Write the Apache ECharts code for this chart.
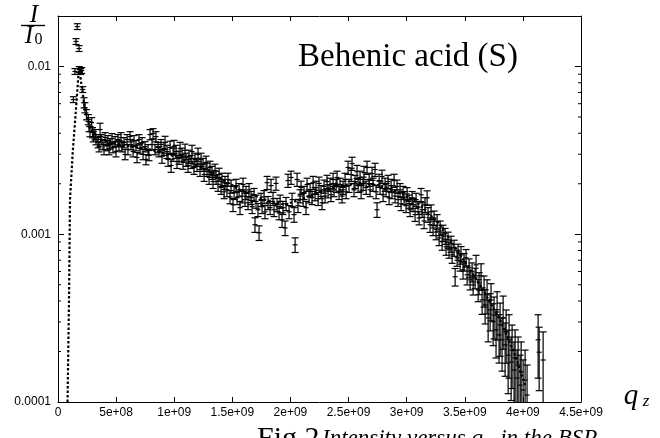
<!DOCTYPE html>
<html><head><meta charset="utf-8">
<script src="https://cdn.jsdelivr.net/npm/echarts@6/dist/echarts.min.js"></script>
<style>html,body{margin:0;padding:0;background:#fff}#c{width:660px;height:438px}</style>
</head><body><div id="c"></div>
<script>
// q_z in units of 1e9 (axis labels show the full value)
const qz = [
.132,.146,.155,.166,.181,.183,.194,.204,.213,.224,
.232,.245,.261,.267,.275,.290,.297,.304,.318,.327,
.344,.362,.353,.370,.387,.396,.405,.422,.430,.439,
.448,.465,.473,.491,.499,.516,.525,.542,.551,.568,
.577,.594,.602,.620,.628,.646,.654,.671,.680,.697,
.706,.723,.732,.749,.757,.775,.783,.792,.809,.818,
.835,.843,.861,.869,.886,.895,.912,.921,.938,.947,
.964,.973,.990,.998,1.016,1.024,1.041,1.050,1.067,1.076,
1.093,1.102,1.119,1.127,1.145,1.153,1.170,1.179,1.196,1.205,
1.222,1.231,1.248,1.257,1.274,1.282,1.300,1.308,1.325,1.334,
1.351,1.360,1.377,1.386,1.403,1.411,1.429,1.437,1.454,1.463,
1.480,1.489,1.506,1.515,1.532,1.541,1.558,1.566,1.584,1.592,
1.609,1.618,1.635,1.644,1.661,1.670,1.687,1.695,1.704,1.721,
1.730,1.747,1.756,1.773,1.781,1.799,1.807,1.825,1.833,1.850,
1.859,1.876,1.885,1.902,1.911,1.928,1.936,1.954,1.962,1.979,
1.988,2.005,2.014,2.031,2.040,2.057,2.065,2.083,2.091,2.109,
2.117,2.134,2.143,2.160,2.169,2.186,2.195,2.212,2.220,2.238,
2.246,2.263,2.272,2.289,2.298,2.315,2.324,2.341,2.349,2.367,
2.375,2.393,2.401,2.418,2.427,2.444,2.453,2.470,2.479,2.496,
2.504,2.522,2.530,2.547,2.556,2.573,2.582,2.599,2.608,2.625,
2.633,2.651,2.659,2.677,2.685,2.702,2.711,2.728,2.737,2.745,
2.763,2.771,2.788,2.797,2.814,2.823,2.840,2.849,2.866,2.874,
2.892,2.900,2.917,2.926,2.943,2.952,2.969,2.978,2.995,3.004,
3.021,3.029,3.047,3.055,3.072,3.081,3.098,3.107,3.124,3.133,
3.150,3.158,3.176,3.184,3.201,3.210,3.227,3.236,3.253,3.262,
3.279,3.288,3.305,3.313,3.331,3.339,3.356,3.365,3.382,3.391,
3.408,3.417,3.434,3.442,3.460,3.468,3.485,3.494,3.511,3.520,
3.537,3.546,3.563,3.572,3.589,3.597,3.615,3.623,3.640,3.649,
3.666,3.675,3.692,3.701,3.718,3.726,3.744,3.752,3.769,3.778,
3.795,3.804,3.821,3.830,3.847,3.856,3.873,3.881,3.899,3.907,
3.924,3.933,3.950,3.959,3.976,3.985,4.002,4.019,4.036,4.131,
4.140,4.174];

// I / I0
const intensity = [
.00635,.00934,.0141,.0173,.0128,.0096,.00934,.00947,.00729,.00609,
.00569,.00517,.00483,.00439,.0041,.00463,.00404,.00382,.00393,.00367,
.00352,.00421,.00333,.00367,.00343,.0032,.00377,.00338,.00362,.0032,
.00347,.00372,.00329,.00357,.00311,.00367,.00338,.00377,.00333,.00352,
.00299,.00367,.0032,.00382,.00343,.00311,.00362,.00338,.00287,.00367,
.00324,.00352,.00299,.00333,.00279,.0032,.00295,.00393,.00343,.00398,
.0032,.00382,.00329,.00311,.00343,.00291,.00324,.00352,.00311,.00279,
.00329,.00257,.00299,.00333,.00311,.00271,.00287,.00324,.00299,.00268,
.00316,.00279,.00257,.00291,.00271,.00311,.0025,.00279,.0026,.00299,
.00243,.00279,.0026,.00227,.00268,.00243,.00218,.0025,.00233,.00206,
.0024,.00218,.00198,.00227,.0019,.00212,.00179,.00203,.00184,.00212,
.00167,.00193,.0015,.00177,.00195,.00165,.00184,.00144,.00169,.00198,
.00161,.00177,.00154,.00184,.00165,.00146,.00172,.00114,.00157,.0014,
.00102,.00161,.00146,.00167,.00136,.00203,.00154,.00144,.00195,.00163,
.0014,.00201,.0015,.00134,.00157,.00122,.00144,.00109,.00152,.00209,
.00136,.00218,.00161,.00131,.000865,.00212,.00148,.00169,.0019,.00161,
.00177,.00144,.00198,.00169,.00184,.00165,.00203,.00174,.0019,.00163,
.00201,.00179,.00154,.00193,.00169,.00206,.00181,.00198,.00172,.00212,
.00184,.00195,.00218,.00177,.00198,.00169,.0019,.00212,.00179,.0025,
.00195,.00227,.00264,.00184,.00206,.00236,.00195,.00218,.00179,.00201,
.00233,.0019,.0025,.00212,.00184,.0023,.00198,.00243,.00179,.0014,
.00209,.0019,.00221,.00172,.00198,.00184,.00206,.00165,.00195,.00179,
.00209,.00169,.00193,.00161,.00184,.00152,.00177,.00165,.00148,.00174,
.00157,.0014,.00165,.0015,.00131,.00161,.00144,.00125,.00172,.0014,
.0012,.0015,.00165,.00131,.00114,.00136,.00109,.00125,.00103,.00119,
.00095,.00109,.000902,.00102,.000976,.000842,.000927,.000808,.000877,.000754,
.00083,.000558,.000724,.000786,.000685,.000754,.000614,.000685,.000724,.000573,
.000631,.000535,.000597,.000499,.00055,.000657,.000466,.000513,.000565,.000406,
.000466,.000379,.000435,.000317,.000354,.000406,.000301,.00033,.000269,.000344,
.000251,.000288,.000235,.000317,.000219,.000262,.00019,.000235,.000173,.000204,
.000155,.000183,.000139,.000166,.000126,.000151,.000118,.000135,.00011,.000235,
.000198,.000178];

// relative error of each point
const relErr = [
.04,.04,.04,.04,.04,.04,.04,.04,.04,.07,
.07,.07,.07,.07,.07,.07,.07,.07,.07,.07,
.07,.09,.07,.07,.07,.07,.07,.07,.07,.07,
.07,.07,.07,.07,.07,.07,.07,.07,.07,.07,
.07,.07,.07,.07,.07,.07,.07,.07,.07,.07,
.07,.07,.07,.07,.07,.07,.07,.07,.07,.07,
.07,.07,.07,.07,.07,.09,.09,.09,.09,.09,
.09,.09,.09,.09,.09,.09,.09,.09,.09,.09,
.09,.09,.09,.09,.09,.09,.09,.09,.09,.09,
.09,.09,.09,.09,.09,.09,.09,.09,.09,.09,
.09,.09,.09,.09,.09,.09,.09,.09,.09,.09,
.09,.09,.09,.09,.09,.09,.09,.09,.09,.09,
.09,.09,.09,.09,.09,.09,.09,.10,.09,.09,
.10,.09,.09,.09,.09,.09,.09,.09,.09,.09,
.09,.09,.09,.09,.09,.10,.09,.10,.09,.09,
.09,.09,.09,.10,.10,.09,.09,.09,.09,.09,
.09,.09,.09,.09,.09,.09,.09,.09,.09,.09,
.09,.09,.09,.09,.09,.09,.09,.09,.09,.09,
.09,.09,.09,.09,.09,.09,.09,.09,.09,.09,
.09,.09,.09,.09,.09,.09,.09,.09,.09,.09,
.09,.09,.09,.09,.09,.09,.09,.09,.09,.10,
.09,.09,.09,.09,.09,.09,.09,.09,.09,.09,
.09,.09,.09,.09,.09,.09,.09,.09,.09,.09,
.09,.09,.09,.09,.09,.09,.09,.09,.09,.10,
.10,.10,.10,.10,.10,.10,.10,.10,.10,.10,
.10,.10,.11,.11,.11,.11,.11,.11,.11,.11,
.11,.12,.11,.11,.12,.12,.12,.12,.12,.13,
.13,.13,.13,.13,.14,.14,.15,.15,.18,.18,
.21,.23,.23,.28,.25,.25,.28,.28,.32,.32,
.32,.35,.35,.35,.35,.35,.41,.41,.41,.41,
.47,.47,.47,.47,.51,.51,.51,.51,.51,.41,
.41,.47];

// dotted fit curve
const fitQz = [0.082,0.0947,0.1033,0.1265,0.1609,0.1807,0.2040,0.2324,0.2754,0.3615,0.5336,0.7918,1.0499,1.3081,1.5663,1.7814,1.9536,2.0827,2.2548,2.4269,2.5990,2.7711,2.9433,3.1154,3.2875,3.4596,3.6317,3.8039,3.9329,4.0190];
const fitI = [0.0001,0.000406,0.00161,0.00307,0.00635,0.0100,0.00760,0.00554,0.00432,0.00367,0.00342,0.00320,0.00286,0.00236,0.00184,0.00161,0.00150,0.00161,0.00179,0.00195,0.00203,0.00195,0.00177,0.00150,0.00114,0.000754,0.000499,0.000309,0.000190,0.000126];

const xTickValues = [0,0.5,1,1.5,2,2.5,3,3.5,4,4.5];
const xTickLabels = ['0','5e+08','1e+09','1.5e+09','2e+09','2.5e+09','3e+09','3.5e+09','4e+09','4.5e+09'];
const yTickValues = [0.0001,0.001,0.01];
const yTickLabels = ['0.0001','0.001','0.01'];
const yMinorTicks = [0.0002,0.0003,0.0004,0.0005,0.0006,0.0007,0.0008,0.0009,0.002,0.003,0.004,0.005,0.006,0.007,0.008,0.009];

const X_MIN = 0, X_MAX = 4.5, Y_MIN = 0.0001, Y_MAX = 0.02;

const chart = echarts.init(document.getElementById('c'), null, {renderer:'canvas'});

function xLabel(v){ const i = xTickValues.findIndex(t=>Math.abs(t-v)<1e-9); return i<0?'':xTickLabels[i]; }
function yLabel(v){ const i = yTickValues.findIndex(t=>Math.abs(Math.log10(t)-Math.log10(v))<1e-6); return i<0?'':yTickLabels[i]; }

const black = '#000';
const errData = qz.map((q,i)=>[q, intensity[i], intensity[i]*(1-relErr[i]), intensity[i]*(1+relErr[i])]);
const stl = {stroke:'#000', lineWidth:1.2};

const axisCommonX = {
  type:'value', min:X_MIN, max:X_MAX, interval:0.5,
  axisLine:{show:true, onZero:false, lineStyle:{color:black, width:1}},
  axisTick:{show:true, inside:true, length:5, lineStyle:{color:black, width:1}},
  splitLine:{show:false}
};
const axisCommonY = {
  type:'log', logBase:10, min:Y_MIN, max:Y_MAX,
  axisLine:{show:true, onZero:false, lineStyle:{color:black, width:1}},
  axisTick:{show:true, inside:true, length:6, lineStyle:{color:black, width:1}},
  splitLine:{show:false}, minorTick:{show:false}
};

chart.setOption({
  animation:false,
  backgroundColor:'#fff',
  grid:{left:58, right:79, top:16, bottom:36, containLabel:false},
  xAxis:[
    Object.assign({}, axisCommonX, {position:'bottom',
      axisLabel:{show:true, color:black, fontFamily:'Liberation Sans', fontSize:12, margin:5, formatter:xLabel}}),
    Object.assign({}, axisCommonX, {position:'top', axisLabel:{show:false}})
  ],
  yAxis:[
    Object.assign({}, axisCommonY, {position:'left',
      axisLabel:{show:true, color:black, fontFamily:'Liberation Sans', fontSize:12, margin:7, formatter:yLabel}}),
    Object.assign({}, axisCommonY, {position:'right', axisLabel:{show:false}})
  ],
  series:[
    {
      type:'custom', name:'data', xAxisIndex:0, yAxisIndex:0, clip:true,
      data: errData, encode:{x:0, y:1},
      renderItem(params, api){
        const x = api.value(0), y = api.value(1);
        let lo = api.value(2); const hi = api.value(3);
        const clipped = lo <= Y_MIN;
        if (clipped) lo = Y_MIN;
        const p = api.coord([x,y]), pl = api.coord([x,lo]), ph = api.coord([x,hi]);
        const c = 3.5;
        const kids = [
          {type:'line', shape:{x1:p[0], y1:pl[1], x2:p[0], y2:ph[1]}, style:stl},
          {type:'line', shape:{x1:p[0]-c, y1:ph[1], x2:p[0]+c, y2:ph[1]}, style:stl},
          {type:'line', shape:{x1:p[0]-2.5, y1:p[1], x2:p[0]+2.5, y2:p[1]}, style:stl}
        ];
        if (!clipped) kids.push({type:'line', shape:{x1:p[0]-c, y1:pl[1], x2:p[0]+c, y2:pl[1]}, style:stl});
        return {type:'group', children:kids};
      },
      z:2
    },
    {
      type:'line', name:'fit', xAxisIndex:0, yAxisIndex:0,
      data: fitQz.map((q,i)=>[q, fitI[i]]),
      showSymbol:false, symbol:'none', smooth:false, clip:true,
      lineStyle:{color:black, width:2.2, type:[2.5,2]}, z:3
    },
    {
      type:'custom', name:'minorTicks', xAxisIndex:0, yAxisIndex:0, clip:false,
      data: yMinorTicks.map(v=>[X_MIN, v]), encode:{x:0, y:1},
      renderItem(params, api){
        const v = api.value(1);
        const l = api.coord([X_MIN, v]), r = api.coord([X_MAX, v]);
        const s = {stroke:black, lineWidth:1};
        return {type:'group', children:[
          {type:'line', shape:{x1:l[0], y1:l[1], x2:l[0]+3, y2:l[1]}, style:s},
          {type:'line', shape:{x1:r[0]-3, y1:r[1], x2:r[0], y2:r[1]}, style:s}
        ]};
      },
      z:4
    }
  ],
  graphic:{elements:[
    {type:'text', x:34, y:15, style:{text:'I', font:'italic 25px "Liberation Serif"', fill:black, align:'center', verticalAlign:'middle'}},
    {type:'line', shape:{x1:21, y1:25.5, x2:45, y2:25.5}, style:{stroke:black, lineWidth:1.4}},
    {type:'text', x:29, y:36, style:{text:'I', font:'italic 25px "Liberation Serif"', fill:black, align:'center', verticalAlign:'middle'}},
    {type:'text', x:38.5, y:40, style:{text:'0', font:'16px "Liberation Serif"', fill:black, align:'center', verticalAlign:'middle'}},
    {type:'text', x:298, y:57, style:{text:'Behenic acid (S)', font:'33px "Liberation Serif"', fill:black, align:'left', verticalAlign:'middle'}},
    {type:'text', x:631, y:396, style:{text:'q', font:'italic 29px "Liberation Serif"', fill:black, align:'center', verticalAlign:'middle'}},
    {type:'text', x:646, y:402, style:{text:'z', font:'italic 17px "Liberation Serif"', fill:black, align:'center', verticalAlign:'middle'}},
    {type:'text', x:257, y:424, style:{text:'Fig.2', font:'30px "Liberation Serif"', fill:black, align:'left', verticalAlign:'top'}},
    {type:'text', x:322, y:427, style:{text:'Intensity versus q   in the BSP', font:'italic 23px "Liberation Serif"', fill:black, align:'left', verticalAlign:'top'}}
  ]}
});
</script>
</body></html>
